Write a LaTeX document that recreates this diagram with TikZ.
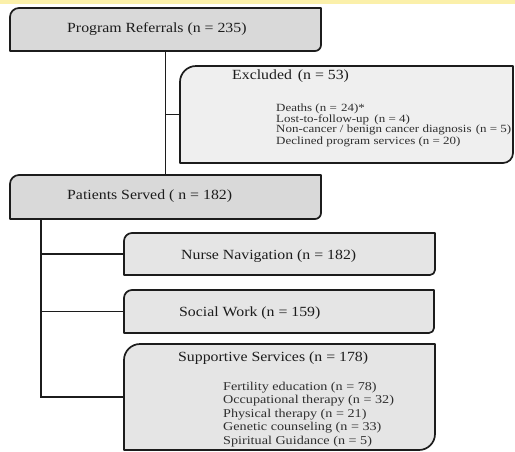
\documentclass[tikz,border=0pt]{standalone}
\usepackage{fontspec}
\setmainfont[FakeStretch=1.13]{Liberation Serif}
\newfontfamily\listfont[FakeStretch=1.18]{Liberation Serif}
\usetikzlibrary{calc}

\definecolor{bandyellow}{HTML}{FBF0AA}
\definecolor{fillDark}{HTML}{D9D9D9}
\definecolor{fillMid}{HTML}{E5E5E5}
\definecolor{fillLight}{HTML}{EFEFEF}
\definecolor{ink}{HTML}{1C1C1C}
\definecolor{listink}{HTML}{2E2E2E}

\tikzset{
  area/.style={anchor=north west, inner sep=0pt, outer sep=0pt, draw=none},
  panel line/.style={draw=ink, line width=1.7pt, line join=round},
  link/.style={draw=ink, line width=1.7pt},
  headtext/.style={anchor=base west, inner sep=0pt, text=ink,
    font=\fontsize{14}{16}\selectfont},
  % multi-line lists are placed by the baseline of their last line
  listtext/.style={anchor=base west, inner sep=0pt, text=listink, align=left},
}

% box outline: node name, fill, top-left radius, bottom-right radius
\newcommand\flowpanel[4]{%
  \draw[panel line, fill=#2]
    (#1.south west) -- ($(#1.north west)+(0,#3)$)
    .. controls ($(#1.north west)+(0,0.45*#3)$) and ($(#1.north west)+(0.45*#3,0)$) .. ($(#1.north west)+(#3,0)$)
    -- (#1.north east) -- ($(#1.south east)+(0,-#4)$)
    .. controls ($(#1.south east)+(0,-0.45*#4)$) and ($(#1.south east)+(-0.45*#4,0)$) .. ($(#1.south east)+(-#4,0)$)
    -- cycle;}

\begin{document}
\begin{tikzpicture}[x=1pt, y=-1pt]
  \useasboundingbox (0,0) rectangle (515,451);
  \fill[bandyellow] (0,0) rectangle (515,3.5);

  % box areas
  \node[area, minimum width=311pt, minimum height=43pt]  (ref)     at (10,8)   {};
  \node[area, minimum width=333pt, minimum height=97pt]  (excl)    at (180,66) {};
  \node[area, minimum width=311pt, minimum height=44pt]  (served)  at (10,175) {};
  \node[area, minimum width=311pt, minimum height=42pt]  (nurse)   at (124,233) {};
  \node[area, minimum width=310pt, minimum height=43pt]  (social)  at (124,290) {};
  \node[area, minimum width=311pt, minimum height=106pt] (support) at (124,344) {};
  \coordinate (spine) at (41,219);

  % connectors
  \draw[link] (ref.south) -- (served.north);
  \draw[link] (excl.west -| ref.south) -- (excl.west);
  \draw[link] (spine |- served.south) -- (spine |- support.west) -- (support.west);
  \draw[link] (spine |- nurse.west) -- (nurse.west);
  \draw[link] (spine |- social.west) -- (social.west);

  % boxes
  \flowpanel{ref}{fillDark}{9}{6}
  \flowpanel{excl}{fillLight}{16}{10}
  \flowpanel{served}{fillDark}{9}{6}
  \flowpanel{nurse}{fillMid}{8}{5}
  \flowpanel{social}{fillMid}{8}{5}
  \flowpanel{support}{fillMid}{16}{16}

  % labels
  \node[headtext] (refLabel) at (67,32.5) {Program Referrals (n = 235)};
  \node[headtext] (exclLabel) at (232,79.5) {Excluded\hspace{2pt} (n = 53)};
  \node[listtext, font=\listfont\fontsize{11}{10}\selectfont] (exclList) at (276,144)
    {Deaths (n = \hspace{1pt}24)*\\Lost-to-follow-up\hspace{2pt} (n = 4)\\Non-cancer / benign cancer diagnosis\hspace{1pt} (n = 5)\\Declined program services (n = 20)};
  \node[headtext] (servedLabel) at (67,199.5) {Patients Served ( n = 182)};
  \node[headtext] (nurseLabel) at (181,259.5) {Nurse Navigation (n = 182)};
  \node[headtext] (socialLabel) at (179,316) {Social Work (n = 159)};
  \node[headtext] (supportLabel) at (178,361) {Supportive Services (n = 178)};
  \node[listtext, font=\listfont\fontsize{12}{13.5}\selectfont] (supportList) at (223,444)
    {Fertility education (n = 78)\\Occupational therapy (n = 32)\\Physical therapy (n = 21)\\Genetic counseling (n = 33)\\Spiritual Guidance (n = 5)};
\end{tikzpicture}
\end{document}
